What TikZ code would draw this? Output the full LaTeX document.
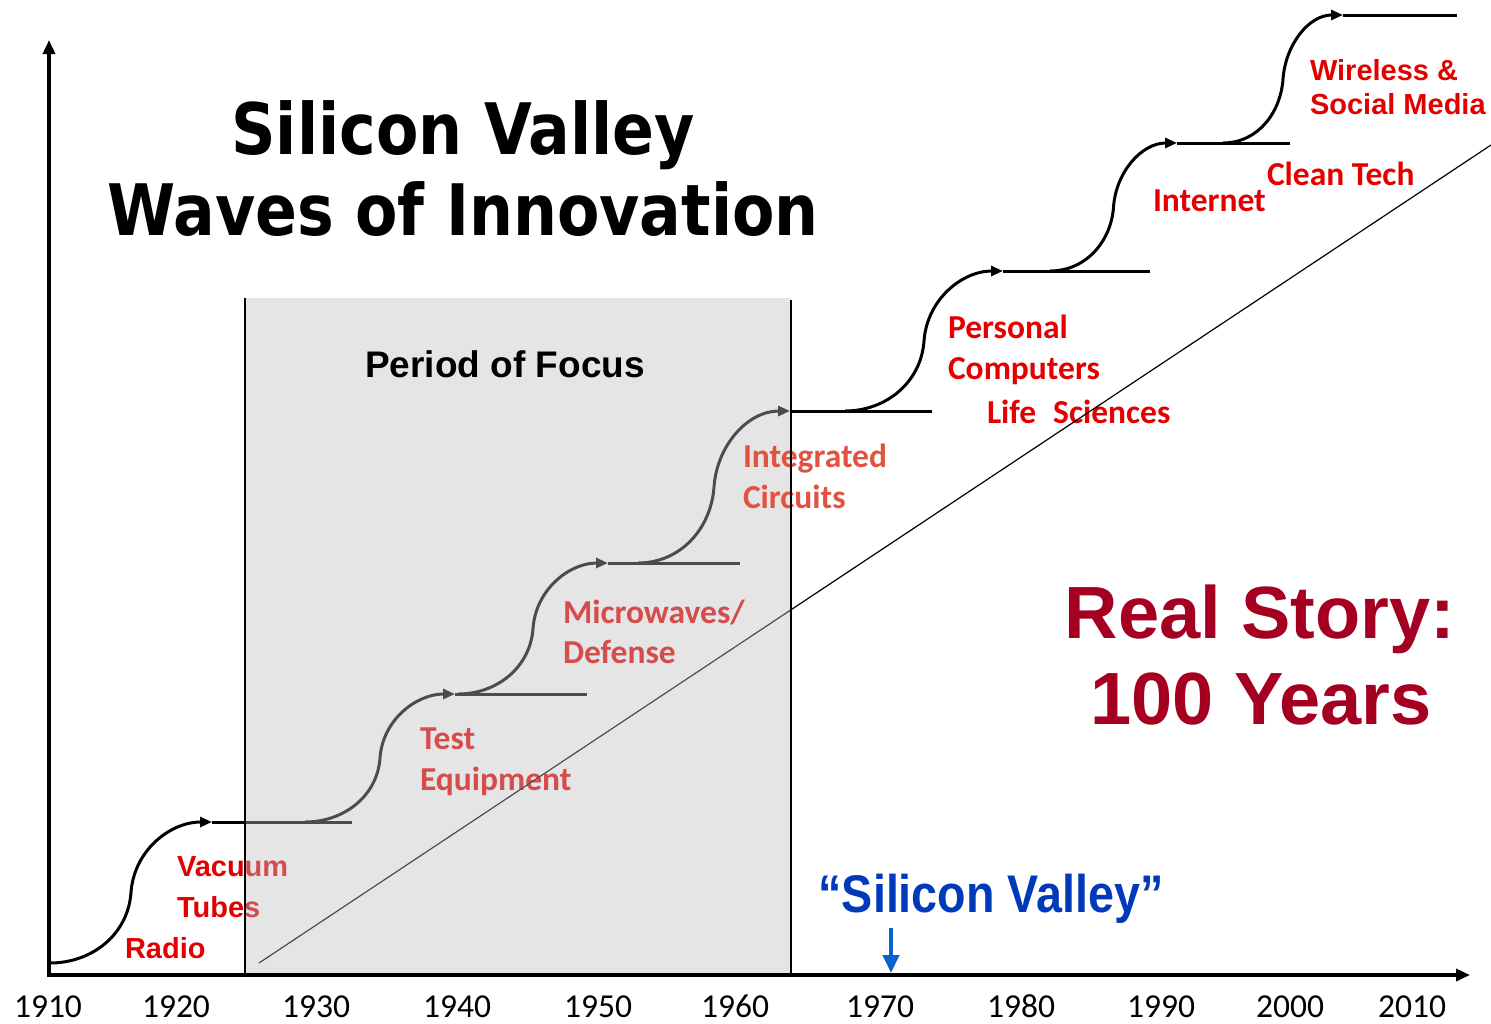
\documentclass[tikz,border=0pt]{standalone}
\usepackage{fontspec}
\setmainfont{Liberation Sans}
\newfontfamily\calibrifont{Carlito}
\newfontfamily\tahomafont[FakeStretch=0.87]{DejaVu Sans}
\newfontfamily\narrowfont[FakeStretch=0.88]{Liberation Sans}
\usetikzlibrary{positioning,arrows.meta}
\definecolor{wavered}{RGB}{228,0,0}
\definecolor{icred}{RGB}{226,82,64}
\definecolor{storyred}{RGB}{165,0,33}
\definecolor{valleyblue}{RGB}{0,58,186}
\definecolor{markblue}{RGB}{12,98,204}
\definecolor{focusgrey}{RGB}{190,190,190}

\begin{document}
\begin{tikzpicture}[
x=0.5pt, y=-0.5pt,
every node/.style = {inner sep=0pt, outer sep=0pt},
axis/.style = {line width=2pt, -{Triangle[length=7pt,width=6pt]}},
wave/.style = {line width=1.5pt, -{Triangle[length=6pt,width=5pt]}},
level/.style = {line width=1.5pt},
arial/.style = {font=\fontsize{14.5}{17}\selectfont\bfseries, text=wavered, anchor=base west},
calibri/.style = {font=\calibrifont\fontsize{16.75}{20}\selectfont\bfseries, text=wavered, anchor=base west},
year/.style = {font=\calibrifont\fontsize{16.75}{20}\selectfont, anchor=base},
]
\useasboundingbox (0,0) rectangle (1491,1023);

\node[arial] (radio) at (125,958) {Radio};
\node[arial] (vacuum) at (177,876) {Vacuum};
\node[arial] (tubes) at ([yshift=-20.5pt]vacuum.base west) {Tubes};
\node[calibri] (test) at (420,749) {Test};
\node[calibri] (equipment) at ([yshift=-20.5pt]test.base west) {Equipment};
\node[calibri] (microwaves) at (563,623) {Microwaves/};
\node[calibri] (defense) at ([yshift=-20pt]microwaves.base west) {Defense};
\node[calibri] (personal) at (948,338) {Personal};
\node[calibri] (computers) at ([yshift=-20.5pt]personal.base west) {Computers};
\node[calibri] (life) at (987,423) {Life\hspace{8.5pt}Sciences};
\node[calibri] (internet) at (1153,211) {Internet};
\node[calibri] (cleantech) at (1267,185) {Clean Tech};
\node[arial] (wireless) at (1310,80) {Wireless \&};
\node[arial] (social) at ([yshift=-17pt]wireless.base west) {Social Media};

\coordinate (trendstart) at (259,963);
\coordinate (trendend) at (1491,145);
\draw[line width=0.6pt] (trendstart) -- (trendend);

\foreach \n/\sx/\sy/\tx/\ty/\ex in {
  1/50/963/212/822/352,
  2/305/822/455/694/587,
  3/458/694/608/563/740,
  4/638/563/790/411/932,
  5/845/411/1003/271/1150,
  6/1050/271/1177/143/1290,
  7/1223/143/1343/15/1457}
{
  \coordinate (s\n) at (\sx,\sy);
  \coordinate (i\n) at ({(\sx+\tx)/2},{(\sy+\ty)/2});
  \coordinate (t\n) at (\tx,\ty);
  \coordinate (e\n) at (\ex,\ty);
  \draw[wave] (s\n) to[out=0,in=-94] (i\n) to[out=86,in=180] (t\n);
  \draw[level] (t\n) -- (e\n);
}

\fill[focusgrey, fill opacity=0.4] (245,298) rectangle (791,975);
\node[calibri, text=icred] (integrated) at (743,467) {Integrated};
\node[calibri, text=icred] (circuits) at ([yshift=-20.5pt]integrated.base west) {Circuits};
\draw[line width=1pt] (245,298) -- (245,975);
\draw[line width=0.8pt] (791,300) -- (791,975);
\node[font=\fontsize{18.5}{22}\selectfont\bfseries, anchor=base] (focus) at (505,377) {Period of Focus};

\node[font=\tahomafont\fontsize{35.5}{40}\selectfont\bfseries, anchor=base] (title) at (463,154) {Silicon Valley};
\node[font=\tahomafont\fontsize{35.5}{40}\selectfont\bfseries, anchor=base] (subtitle) at (463,235) {Waves of Innovation};

\node[font=\fontsize{37}{43}\selectfont\bfseries, text=storyred, anchor=base] (story) at (1260,638) {Real Story:};
\node[font=\fontsize{37}{43}\selectfont\bfseries, text=storyred, anchor=base] (years) at (1261,724) {100 Years};

\node[font=\narrowfont\fontsize{26.5}{30}\selectfont\bfseries, text=valleyblue, anchor=base] (valley) at (991,912) {“Silicon Valley”};
\coordinate (marktop) at (891,928);
\coordinate (markfoot) at (891,973);
\draw[markblue, line width=2pt, -{Triangle[length=9pt,width=8pt]}] (marktop) -- (markfoot);

\coordinate (origin) at (49,975);
\coordinate (ytip) at (49,40);
\coordinate (xtip) at (1470,975);
\draw[axis] ([yshift=-1pt]origin) -- (ytip);
\draw[axis] ([xshift=-1pt]origin) -- (xtip);

\foreach \yr/\px in {1910/48,1920/176,1930/316,1940/457,1950/598,1960/735,1970/880,1980/1021,1990/1161,2000/1290,2010/1412}
  \node[year] (y\yr) at (\px,1017) {\yr};
\end{tikzpicture}
\end{document}
